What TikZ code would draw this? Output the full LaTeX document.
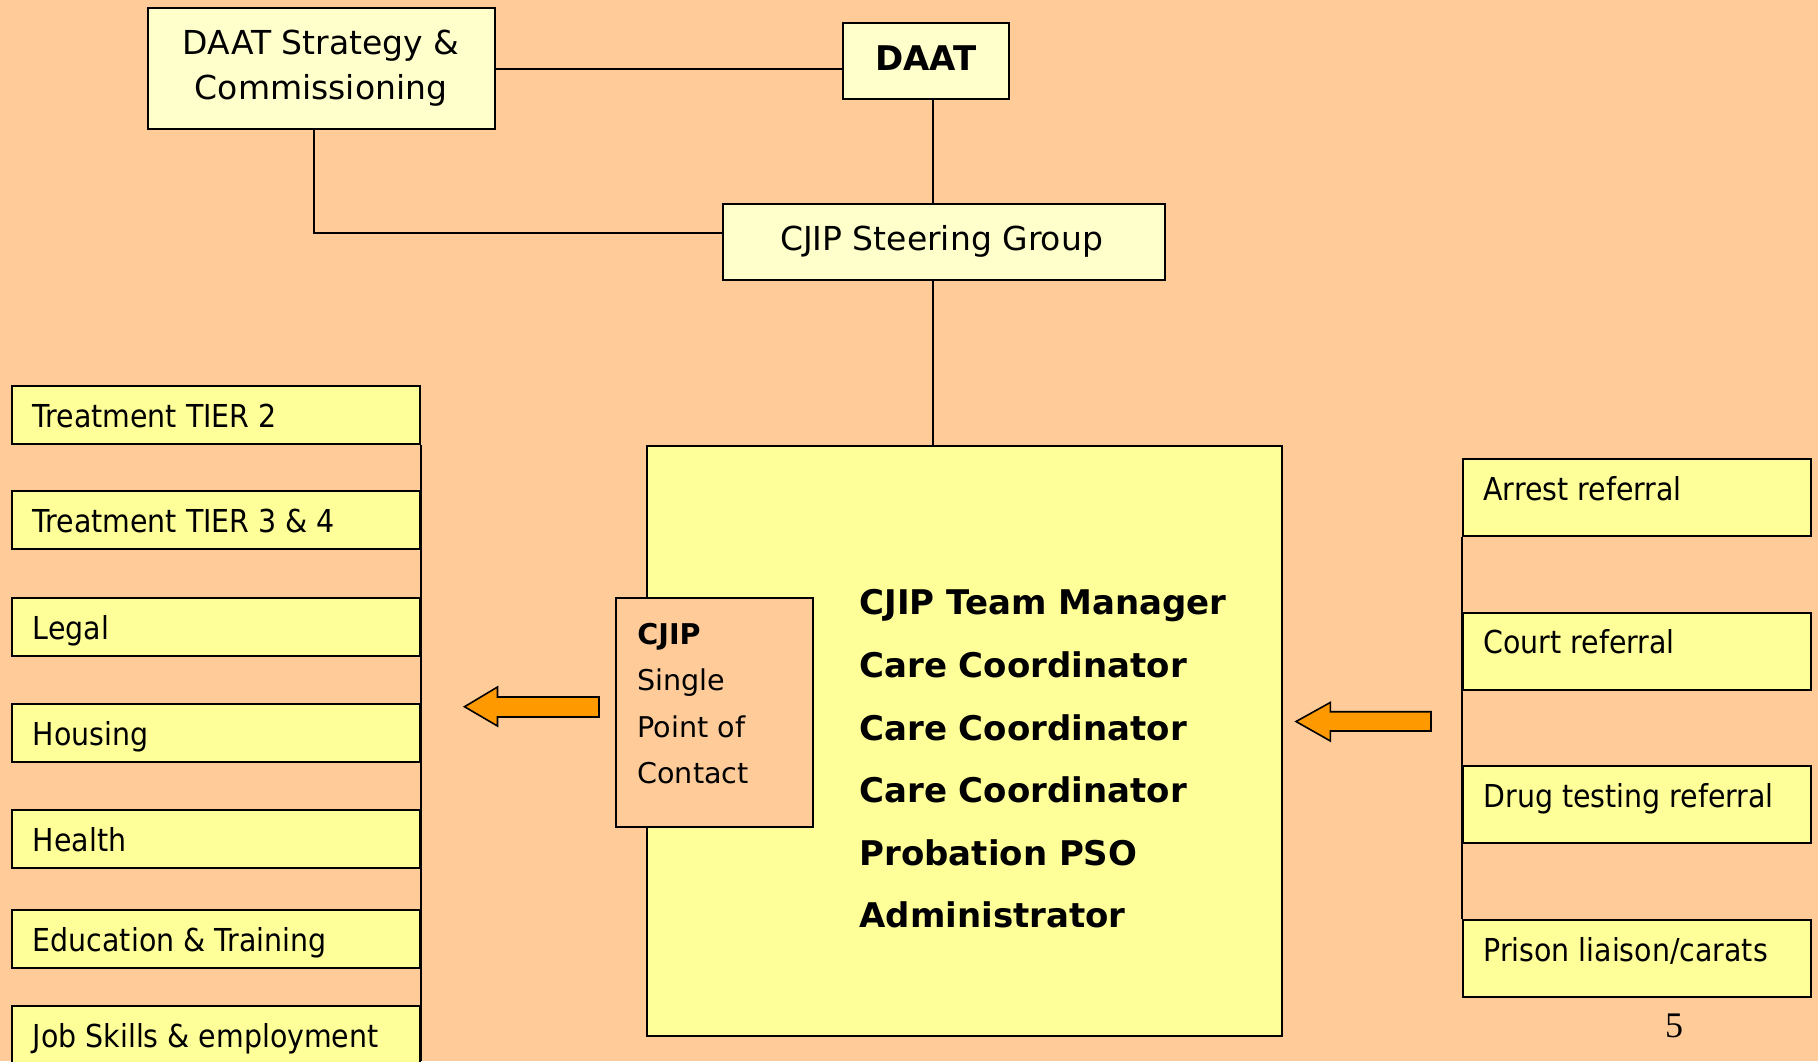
\documentclass[tikz,border=0pt]{standalone}
\usepackage{fontspec}
\setmainfont{DejaVu Sans Condensed}
\newfontfamily\widefont{DejaVu Sans}
\newfontfamily\numfont{Liberation Serif}
\definecolor{bgpeach}{HTML}{FFCC99}
\definecolor{paleyel}{HTML}{FFFFCC}
\definecolor{boxyel}{HTML}{FFFF99}
\definecolor{arroworange}{HTML}{FF9900}
\tikzset{
  box/.style={draw=black, line width=1.2pt, rectangle, inner sep=0pt, anchor=north west},
  topbox/.style={box, fill=paleyel},
  sidebox/.style={box, fill=boxyel, minimum width=204pt, minimum height=29pt},
  refbox/.style={box, fill=boxyel, minimum width=174pt, minimum height=38.5pt},
  conn/.style={draw=black, line width=1pt},
  fatarrow/.style={draw=black, line width=0.8pt, fill=arroworange, line join=miter},
  txt/.style={inner sep=0pt, anchor=base west, font=\fontsize{15.8pt}{18pt}\selectfont},
  toptxt/.style={inner sep=0pt, anchor=base, font=\widefont\fontsize{16.5pt}{20pt}\selectfont},
  teamtxt/.style={inner sep=0pt, anchor=base west, font=\widefont\bfseries\fontsize{17pt}{20pt}\selectfont},
  spoctxt/.style={inner sep=0pt, anchor=base west, font=\widefont\fontsize{14.3pt}{17pt}\selectfont},
}
\begin{document}
\begin{tikzpicture}[x=0.5pt, y=-0.5pt]
\useasboundingbox (0,0) rectangle (1818,1061);
\clip (0,0) rectangle (1818,1061);
\fill[bgpeach] (0,0) rectangle (1818,1061);

% top boxes
\node[topbox, minimum width=173.5pt, minimum height=60.5pt] (strat) at (147,7) {};
\node[topbox, minimum width=83pt, minimum height=38pt] (daat) at (842,22) {};
\node[topbox, minimum width=221pt, minimum height=38pt] (steer) at (721.5,203) {};

\node[toptxt] (stratA) at (321,54) {DAAT Strategy \&};
\node[toptxt] (stratB) at (321,99) {Commissioning};
\node[toptxt, font=\widefont\bfseries\fontsize{17pt}{20pt}\selectfont] (daatT) at (926,70) {DAAT};
\node[toptxt] (steerT) at (941.5,250) {CJIP Steering Group};

% top connectors
\coordinate (vx) at (933,0);
\draw[conn] (strat.east) -- (strat.east -| daat.west);
\draw[conn] (daat.south -| vx) -- (steer.north -| vx);
\coordinate (elb) at (313.5,233.3);
\draw[conn] (strat.south -| elb) -- (elb) -- (elb -| steer.west);

% big team box
\node[box, fill=boxyel, minimum width=317.5pt, minimum height=295pt] (team) at (646,445) {};
\draw[conn] (steer.south -| vx) -- (team.north -| vx);

\node[teamtxt] (tm) at (859,614.3) {CJIP Team Manager};
\node[teamtxt] (cc1) at (859,677.5) {Care Coordinator};
\node[teamtxt] (cc2) at (859,740) {Care Coordinator};
\node[teamtxt] (cc3) at (859,802.5) {Care Coordinator};
\node[teamtxt] (pso) at (859,865) {Probation PSO};
\node[teamtxt] (adm) at (859,927.5) {Administrator};

% single point of contact
\node[box, fill=bgpeach, minimum width=98.5pt, minimum height=114.5pt] (spoc) at (615,597) {};
\node[spoctxt, font=\widefont\bfseries\fontsize{14.3pt}{17pt}\selectfont] (sp1) at (637,644) {CJIP};
\node[spoctxt] (sp2) at (637,690.5) {Single};
\node[spoctxt] (sp3) at (637,737) {Point of};
\node[spoctxt] (sp4) at (637,783) {Contact};

% left service boxes
\node[sidebox] (t2) at (11,384.5) {};
\node[sidebox] (t34) at (11,490) {};
\node[sidebox] (legal) at (11,597) {};
\node[sidebox] (hous) at (11,703) {};
\node[sidebox] (health) at (11,808.5) {};
\node[sidebox] (edu) at (11,908.5) {};
\node[sidebox] (job) at (11,1005) {};
\node[txt] (t2T) at (32.5,427) {Treatment TIER 2};
\node[txt] (t34T) at (32.5,532.5) {Treatment TIER 3 \& 4};
\node[txt] (legalT) at (32.5,639.5) {Legal};
\node[txt] (housT) at (32.5,745.5) {Housing};
\node[txt] (healthT) at (32.5,851) {Health};
\node[txt] (eduT) at (32.5,951) {Education \& Training};
\node[txt] (jobT) at (32.5,1047.5) {Job Skills \& employment};
\coordinate (lbot) at (419,1061);
\draw[conn] (t2.south east) -- (t2.south east |- lbot);

% right referral boxes
\node[refbox] (arr) at (1462,458) {};
\node[refbox] (court) at (1462,611.5) {};
\node[refbox] (drug) at (1462,765) {};
\node[refbox] (pris) at (1462,919) {};
\node[txt] (arrT) at (1483,500) {Arrest referral};
\node[txt] (courtT) at (1483,653.5) {Court referral};
\node[txt] (drugT) at (1483,807) {Drug testing referral};
\node[txt] (prisT) at (1483,961) {Prison liaison/carats};
\draw[conn] (arr.south west) -- (pris.north west);

% block arrows
\draw[fatarrow] (464.5,706.7) -- (497.5,687) -- (497.5,697) -- (599,697) -- (599,717) -- (497.5,717) -- (497.5,726) -- cycle;
\draw[fatarrow] (1296,721.5) -- (1330.4,702.4) -- (1330.4,711.7) -- (1431,711.7) -- (1431,731) -- (1330.4,731) -- (1330.4,741) -- cycle;

% page number
\node[inner sep=0pt, anchor=base, font=\numfont\fontsize{18pt}{20pt}\selectfont] (pg) at (1674,1037.6) {5};
\end{tikzpicture}
\end{document}
